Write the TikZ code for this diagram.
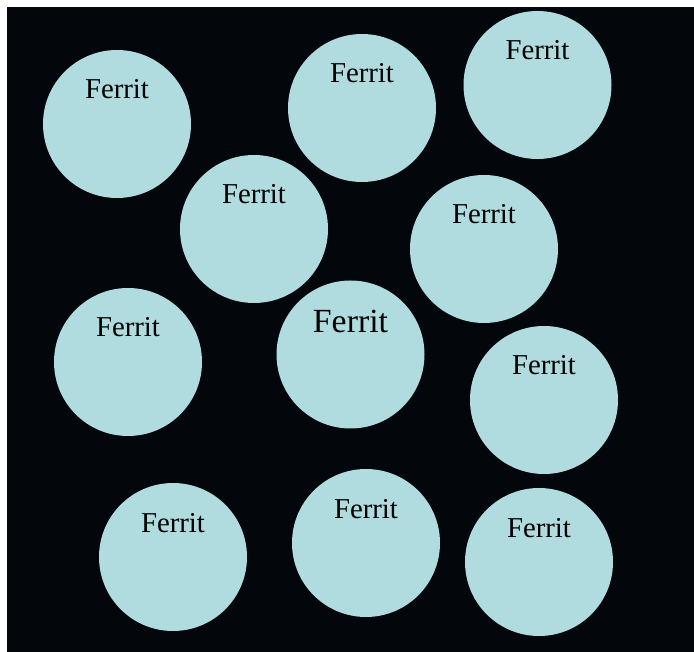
\documentclass[tikz,border=0pt]{standalone}
\usepackage{fontspec}
\setmainfont{Liberation Serif}
\definecolor{bgc}{HTML}{03060B}
\definecolor{grain}{HTML}{B0DCE0}
\begin{document}
\begin{tikzpicture}[x=1pt,y=-1pt,
  grainc/.style={circle,fill=grain,draw=none,minimum size=148pt,inner sep=0pt},
  lab/.style={anchor=base,text=black,inner sep=0pt,font=\fontsize{28.8}{30}\selectfont},
  biglab/.style={anchor=base,text=black,inner sep=0pt,font=\fontsize{33.8}{36}\selectfont}]
\useasboundingbox (0,0) rectangle (694,652);
\fill[white] (0,0) rectangle (694,652);
\fill[bgc] (7,7) rectangle (694,652);
\foreach \n/\x/\y in {g1/117/124, g2/362/108, g3/537.5/85, g4/254/229, g5/484/249, g6/128/362, g8/544/400, g9/173/557, g10/366/543, g11/539/562}{
  \node[grainc] (\n) at (\x,\y) {};
  \node[lab] (\n l) at (\x,\y-25) {Ferrit};
}
\node[grainc] (g7) at (350.5,354.5) {};
\node[biglab] (g7l) at (350.5,333) {Ferrit};
\end{tikzpicture}
\end{document}
